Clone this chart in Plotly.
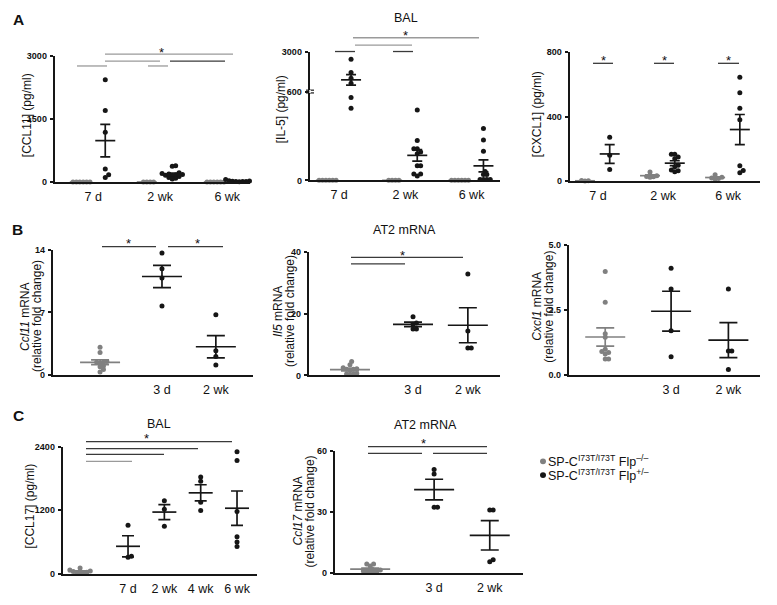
import numpy as np
import plotly.graph_objects as go

W, H = 777, 605
GRAY = "#808080"
DARK = "#161616"
SIG_G = "#9a9a9a"
SIG_D = "#3a3a3a"
FONT = "Liberation Sans, Arial, sans-serif"

# ---------------- data ----------------
# gray = SP-C I73T/I73T Flp-/-, black = SP-C I73T/I73T Flp+/-
bal_times = ["7 d", "2 wk", "6 wk"]

ccl11_ctrl = [[0, 0, 0, 0, 0, 0], [0, 0, 0, 0], [0, 0, 0, 0, 0, 0]]
ccl11_flp = [[2431, 1699, 1184, 312, 171, 109],
             [390, 375, 220, 200, 190, 180, 170, 160, 150, 130, 110, 90, 70],
             [60, 40, 30, 25, 20, 15, 10, 10, 5]]
ccl11_ticks = [0, 1500, 3000]

il5_ctrl = [[0, 0, 0, 0, 0, 0], [0, 0, 0, 0], [0, 0, 0, 0, 0, 0]]
il5_flp = [[2544, 1740, 1400, 1100, 560, 487],
           [476, 269, 214, 214, 192, 180, 98, 98, 43, 43, 30],
           [351, 272, 196, 60, 40, 40, 5, 5, 5, 5]]
il5_break = 600
il5_ticks_low = [0, 600]
il5_ticks_high = [3000]

cxcl1_ctrl = [[5, 3, 2], [57, 35, 30, 28, 25], [40, 25, 20, 18, 15]]
cxcl1_flp = [[273, 162, 73],
             [168, 168, 150, 140, 100, 90, 70, 65, 60],
             [644, 547, 452, 381, 97, 67, 53]]
cxcl1_ticks = [0, 400, 800]

# AT2 mRNA: control (Flp-/-), 3 d, 2 wk
mrna_times = ["3 d", "2 wk"]
ccl11_mrna = [[3.1, 2.5, 1.5, 1.4, 1.4, 1.3, 1.0, 0.9, 0.6, 0.3],
              [13.67, 11.9, 10.87, 7.74],
              [6.74, 2.69, 2.06, 1.1]]
ccl11_mrna_ticks = [0, 7, 14]

il5_mrna = [[4.5, 3.5, 2.5, 2.2, 2.0, 2.0, 1.8, 0.6, 0.5, 0.5, 0.4],
            [19.0, 17.0, 16.6, 15.0, 15.0],
            [32.8, 14.4, 8.9, 8.9]]
il5_mrna_ticks = [0, 20, 40]

cxcl1_mrna = [[3.98, 2.79, 1.58, 1.45, 0.98, 0.9, 0.86, 0.8, 0.61, 0.61],
              [4.1, 3.3, 1.7, 0.69],
              [3.3, 0.92, 0.92, 0.2]]
cxcl1_mrna_ticks = [0, 2.5, 5]

ccl17_times = ["7 d", "2 wk", "4 wk", "6 wk"]
ccl17_bal = [[110, 70, 50, 40, 30, 20, 20, 10],
             [918, 329, 310],
             [1382, 1220, 898],
             [1829, 1748, 1350, 1196],
             [2307, 2140, 1177, 699, 601, 513]]
ccl17_ticks = [0, 1200, 2400]

ccl17_mrna = [[4.5, 4.5, 3.5, 2.0, 1.5, 1.0, 1.0, 0.8, 0.5, 0.5],
              [50.8, 48.6, 32.3, 32.3],
              [31.0, 31.0, 6.6, 5.6]]
ccl17_mrna_ticks = [0, 30, 60]


# ---------------- helpers ----------------
def fx(p):
    return p / W


def fy(p):
    return 1 - p / H


def key(kind, n):
    return kind if n == 1 else f"{kind}{n}"


def ref(kind, n):
    return kind[0] if n == 1 else f"{kind[0]}{n}"


def swarm(ypix, d=3.4):
    # greedy beeswarm, returns horizontal offsets in px
    ypix = np.asarray(ypix, float)
    offs = np.zeros(len(ypix))
    placed = []
    for i in np.argsort(-ypix):
        k = 0
        while True:
            o = ((k + 1) // 2) * d / 2 * (1 if k % 2 else -1)
            if all(np.hypot(o - po, ypix[i] - py) >= d * 0.98 for po, py in placed):
                break
            k += 1
        offs[i] = o
        placed.append((o, ypix[i]))
    return offs


fig = go.Figure()
shapes, annos = [], []
axes = {}


def add_xaxis(n, xpx, xr, yn, ticks, labels):
    axes[key("xaxis", n)] = dict(
        domain=[fx(xpx[0]), fx(xpx[1])], range=xr, anchor=ref("y", yn),
        showline=True, linewidth=1.6, linecolor=DARK, ticks="",
        tickvals=ticks, ticktext=labels, showgrid=False, zeroline=False,
        tickfont=dict(size=12.5, color="#111"), ticklabelstandoff=2)


def add_yaxis(n, ypx, yr, xn, ticks, fmt=None):
    axes[key("yaxis", n)] = dict(
        domain=[fy(ypx[1]), fy(ypx[0])], range=yr, anchor=ref("x", xn),
        showline=True, linewidth=1.6, linecolor=DARK, ticks="outside",
        ticklen=3.5, tickwidth=1.6, tickcolor=DARK, tickvals=ticks,
        ticktext=[fmt.format(t) if fmt else str(t) for t in ticks],
        showgrid=False, zeroline=False, ticklabelstandoff=1,
        tickfont=dict(size=9, color="#111", weight="bold"))


def add_points(xn, yn, xc, vals, ypix, ppx, color):
    if len(vals) == 0:
        return
    off = swarm([ypix(v) for v in vals]) / ppx
    fig.add_trace(go.Scatter(
        x=xc + off, y=vals, xaxis=ref("x", xn), yaxis=ref("y", yn),
        mode="markers", marker=dict(size=5, color=color),
        cliponaxis=False, showlegend=False))


def add_mean(xn, yn, xc, m, s, color, w, cap):
    fig.add_trace(go.Scatter(
        x=[xc], y=[m], xaxis=ref("x", xn), yaxis=ref("y", yn), mode="markers",
        marker=dict(symbol="line-ew", size=w / 1.4, color=color,
                    line=dict(width=1.7, color=color)),
        error_y=dict(type="data", array=[s], width=cap, thickness=1.7, color=color),
        cliponaxis=False, showlegend=False))


def stats(vals):
    v = np.asarray(vals, float)
    return v.mean(), v.std(ddof=1) / np.sqrt(len(v))


def panel(n, xpx, ypx, xr, yr, yticks, groups, xticks, xlabels, mean_w, cap, fmt=None):
    add_xaxis(n, xpx, xr, n, xticks, xlabels)
    add_yaxis(n, ypx, yr, n, yticks, fmt)
    ppx = (xpx[1] - xpx[0]) / (xr[1] - xr[0])
    ppy = (ypx[1] - ypx[0]) / (yr[1] - yr[0])

    def ypix(v):
        return ypx[1] - (v - yr[0]) * ppy

    for xc, vals, color in groups:
        add_points(n, n, xc, vals, ypix, ppx, color)
    for xc, vals, color in groups:
        m, s = stats(vals)
        add_mean(n, n, xc, m, s, color, mean_w, cap)


def sig(lines, star):
    for x0, x1, y, c in lines:
        shapes.append(dict(type="line", xref="paper", yref="paper",
                           x0=fx(x0), x1=fx(x1), y0=fy(y), y1=fy(y),
                           line=dict(color=c, width=1.3)))
    for sx, sy in star:
        annos.append(dict(text="*", x=fx(sx), y=fy(sy + 3), xref="paper", yref="paper",
                          xanchor="center", yanchor="middle",
                          showarrow=False, borderpad=0,
                          font=dict(size=13, color="#111")))


def text(t, x, y, size=12.5, angle=0, bold=False, anchor="center"):
    annos.append(dict(text=f"<b>{t}</b>" if bold else t, x=fx(x), y=fy(y),
                      xref="paper", yref="paper", showarrow=False, textangle=angle,
                      xanchor=anchor, yanchor="middle", borderpad=0,
                      font=dict(size=size, color="#111")))


# ---------------- panel A ----------------
OFF_C, OFF_F = -0.2, 0.18


def bal_groups(ctrl, flp):
    g = []
    for i in range(len(ctrl)):
        g.append((i + OFF_C, ctrl[i], GRAY))
        g.append((i + OFF_F, flp[i], DARK))
    return g


panel(1, (55, 250), (51.7, 180), [-0.57, 2.34], [0, 3000], ccl11_ticks,
      bal_groups(ccl11_ctrl, ccl11_flp), [0, 1, 2], bal_times, 20, 5)

# IL-5 with a broken y axis (two stacked y axes on x2)
xr2 = [-0.44, 2.43]
xpx2 = (310, 500)
low_px, high_px = (88, 178.3), (47.5, 88)
low_r, high_r = [0, il5_break], [il5_break, 3000]
add_xaxis(2, xpx2, xr2, 2, [0, 1, 2], bal_times)
add_yaxis(2, low_px, low_r, 2, il5_ticks_low)
add_yaxis(9, high_px, high_r, 2, il5_ticks_high)
ppx2 = (xpx2[1] - xpx2[0]) / (xr2[1] - xr2[0])


def ypix_il5(v):
    if v <= il5_break:
        return low_px[1] - v * (low_px[1] - low_px[0]) / (low_r[1] - low_r[0])
    return high_px[1] - (v - il5_break) * (high_px[1] - high_px[0]) / (high_r[1] - high_r[0])


for xc, vals, color in bal_groups(il5_ctrl, il5_flp):
    off = swarm([ypix_il5(v) for v in vals]) / ppx2
    lo = [(xc + o, v) for o, v in zip(off, vals) if v <= il5_break]
    hi = [(xc + o, v) for o, v in zip(off, vals) if v > il5_break]
    for pts, yn in ((lo, 2), (hi, 9)):
        if pts:
            fig.add_trace(go.Scatter(
                x=[p[0] for p in pts], y=[p[1] for p in pts], xaxis="x2",
                yaxis=ref("y", yn), mode="markers",
                marker=dict(size=5, color=color), cliponaxis=False, showlegend=False))
for xc, vals, color in bal_groups(il5_ctrl, il5_flp):
    m, s = stats(vals)
    add_mean(2, 9 if m > il5_break else 2, xc, m, s, color, 20, 5)
for yb in (86.6, 89.4):
    shapes.append(dict(type="line", xref="paper", yref="paper", x0=fx(306), x1=fx(314),
                       y0=fy(yb), y1=fy(yb), line=dict(color=DARK, width=1.2)))
for yb in (87.3, 88.7):
    shapes.append(dict(type="line", xref="paper", yref="paper", x0=fx(309), x1=fx(311),
                       y0=fy(yb), y1=fy(yb), line=dict(color="white", width=1.2)))

panel(3, (570, 760), (47.7, 179.3), [-0.43, 2.49], [0, 800], cxcl1_ticks,
      bal_groups(cxcl1_ctrl, cxcl1_flp), [0, 1, 2], bal_times, 20, 5)

# ---------------- panel B ----------------
MRNA_X = [0, 1, 1.87]


def mrna_groups(data):
    return [(MRNA_X[i], data[i], GRAY if i == 0 else DARK) for i in range(3)]


panel(4, (53, 253), (249.3, 376), [-0.76, 2.47], [0, 14], ccl11_mrna_ticks,
      mrna_groups(ccl11_mrna), MRNA_X[1:], mrna_times, 40, 9)
panel(5, (309, 500), (251, 376.7), [-0.65, 2.38], [0, 40], il5_mrna_ticks,
      mrna_groups(il5_mrna), MRNA_X[1:], mrna_times, 40, 9)
panel(6, (569, 760), (244, 376), [-0.55, 2.35], [0, 5], cxcl1_mrna_ticks,
      mrna_groups(cxcl1_mrna), MRNA_X[1:], mrna_times, 40, 9, fmt="{:.1f}")

# ---------------- panel C ----------------
C_X = [-0.32, 1, 2, 3, 4]
panel(7, (63, 257), (449.3, 578.3), [-0.79, 4.55], [0, 2400], ccl17_ticks,
      [(C_X[i], ccl17_bal[i], GRAY if i == 0 else DARK) for i in range(5)],
      C_X[1:], ccl17_times, 24, 6)
panel(8, (335, 523), (453.3, 577.7), [-0.55, 2.39], [0, 60], ccl17_mrna_ticks,
      mrna_groups(ccl17_mrna), MRNA_X[1:], mrna_times, 40, 9)

# ---------------- significance bars ----------------
sig([(105, 233, 50, SIG_G), (105, 160, 57, SIG_G), (170, 225, 57, SIG_D),
     (77, 107, 62, SIG_G), (148, 168, 62, SIG_G)], [(161, 45)])
sig([(353, 479, 33.3, SIG_G), (355, 412, 40.7, SIG_G), (335, 355, 47.3, SIG_D),
     (393, 413, 47.3, SIG_D)], [(405.7, 28.3)])
sig([(593, 613, 59.3, SIG_D), (654, 674, 59.3, SIG_D), (718, 739, 59.3, SIG_D)],
    [(603, 53), (664, 53), (728, 53)])
sig([(102, 156, 245.7, SIG_D), (168, 223, 245.7, SIG_D)], [(128, 240), (197, 240)])
sig([(351, 463, 256.7, SIG_D), (351, 405, 263.3, SIG_D)], [(402, 252)])
sig([(86, 232, 444, SIG_D), (86, 198, 451, SIG_D), (86, 164, 457, SIG_D),
     (86, 132, 464, SIG_G)], [(146, 437.7)])
sig([(368, 487, 449, SIG_D), (368, 422, 456, SIG_D), (433, 487, 456, SIG_D)],
    [(424, 443)])

# ---------------- texts ----------------
text("A", 18, 15, 15.5, bold=True)
text("B", 17, 228, 15.5, bold=True)
text("C", 18, 417, 15.5, bold=True)
text("BAL", 405.7, 13.3)
text("AT2 mRNA", 405, 228.3)
text("BAL", 159.3, 426.5)
text("AT2 mRNA", 425, 426.7)

text("[CCL11] (pg/ml)", 27, 112, 12, angle=-90)
text("[IL-5] (pg/ml)", 281, 106, 12, angle=-90)
text("[CXCL1] (pg/ml)", 537, 111, 12, angle=-90)
text("[CCL17] (pg/ml)", 30, 510, 12, angle=-90)
for name, cx, cy in (("Ccl11", 31.5, 316.7), ("Il5", 283.5, 311.7),
                     ("Cxcl1", 543, 306.7), ("Ccl17", 304, 515)):
    text(f"<i>{name}</i> mRNA", cx - 6, cy, 12, angle=-90)
    text("(relative fold change)", cx + 6, cy, 12, angle=-90)

# legend
for yl, c, lab in ((464, GRAY, "SP-C<sup>I73T/I73T</sup> Flp<sup>–/–</sup>"),
                   (478, DARK, "SP-C<sup>I73T/I73T</sup> Flp<sup>+/–</sup>")):
    shapes.append(dict(type="circle", xref="paper", yref="paper",
                       x0=fx(540), x1=fx(546), y0=fy(yl + 3), y1=fy(yl - 3),
                       fillcolor=c, line=dict(width=0)))
    text(lab, 547, yl, 12.5, anchor="left")

fig.update_layout(
    width=W, height=H, margin=dict(l=0, r=0, t=0, b=0),
    paper_bgcolor="white", plot_bgcolor="white",
    font=dict(family=FONT, color="#111"),
    shapes=shapes, annotations=annos, showlegend=False, **axes)

fig.write_html("out.html", config={"displayModeBar": False},
               post_script="document.body.style.margin='0';")
